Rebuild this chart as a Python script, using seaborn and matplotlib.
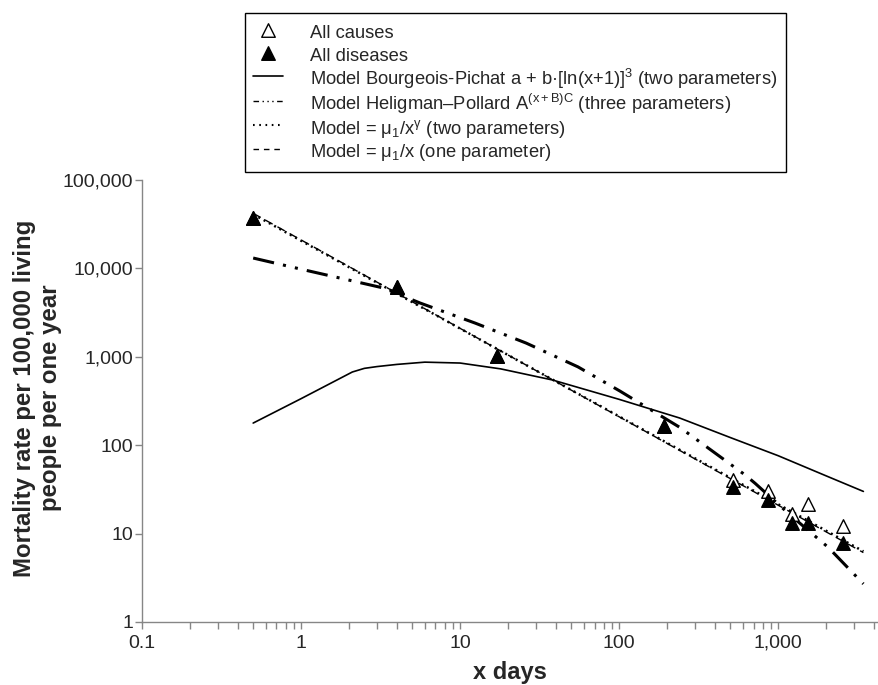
import numpy as np
import pandas as pd
import matplotlib
matplotlib.use("Agg")
import matplotlib.pyplot as plt
from matplotlib.ticker import LogLocator, FuncFormatter, NullLocator
import seaborn as sns

sns.set_style("white")
plt.rcParams['font.family'] = ['Liberation Sans', 'DejaVu Sans']
plt.rcParams['mathtext.fontset'] = 'custom'
plt.rcParams['mathtext.rm'] = 'Liberation Sans'
plt.rcParams['mathtext.it'] = 'Liberation Sans:italic'
plt.rcParams['mathtext.default'] = 'regular'

# observed points (x in days)
obs_x = [0.5, 4, 17, 190, 520, 865, 1225, 1545, 2565]
all_causes = [37000, 6200, 1020, 165, 40, 30, 16.7, 21.6, 12.2]
all_diseases = [37000, 6200, 1020, 165, 33.6, 24, 13.2, 13.2, 7.8]

# Bourgeois-Pichat model curve
bp_x = [0.5, 1, 2.1, 2.5, 3, 4, 6, 10, 18, 38, 100, 240, 500, 1000, 2000, 3430]
bp_y = [178, 336, 673, 740, 775, 820, 870, 850, 730, 547, 330, 203, 122, 76, 45, 30]

# Heligman-Pollard model curve
hp_x = [0.5, 1, 3.3, 5.6, 12.4, 26, 55, 101, 242, 620, 716, 1200, 2060, 3430]
hp_y = [13100, 9800, 6000, 4060, 2410, 1430, 770, 410, 158, 46, 37, 16, 7.0, 2.7]

# power models (straight lines in log-log)
pw_x = [0.5, 3430]
pw_gamma_y = [41000, 6.3]
pw_one_y = [42000, 6.1]

labels = ["All causes", "All diseases",
          "Model Bourgeois-Pichat a + b·[ln(x+1)]$^{3}$ (two parameters)",
          "Model Heligman–Pollard A$^{(x+B)C}$ (three parameters)",
          "Model = μ$_{1}$/x$^{γ}$ (two parameters)",
          "Model = μ$_{1}$/x (one parameter)"]

W, H = 879, 685
fig = plt.figure(figsize=(W / 100, H / 100), dpi=100)
ax = fig.add_axes([142 / W, 1 - 622 / H, (W - 142) / W, (622 - 180) / H])

sns.lineplot(x=bp_x, y=bp_y, ax=ax, color='black', lw=1.2, label=labels[2],
             errorbar=None)
sns.lineplot(x=hp_x, y=hp_y, ax=ax, color='black', lw=2.2, label=labels[3],
             errorbar=None, linestyle=(0, (7, 3, 1, 3, 1, 3)))
sns.lineplot(x=pw_x, y=pw_gamma_y, ax=ax, color='black', lw=1.8, label=labels[4],
             errorbar=None, linestyle=(0, (0.8, 1.6)))
sns.lineplot(x=pw_x, y=pw_one_y, ax=ax, color='black', lw=1.0, label=labels[5],
             errorbar=None, linestyle=(0, (6, 4)))

sns.scatterplot(x=obs_x, y=all_causes, ax=ax, marker='^', s=95, color='white',
                edgecolor='black', linewidth=1, label=labels[0], zorder=5)
sns.scatterplot(x=obs_x, y=all_diseases, ax=ax, marker='^', s=95, color='black',
                edgecolor='black', linewidth=1, label=labels[1], zorder=6)

ax.set_xscale('log')
ax.set_yscale('log')
ax.set_xlim(0.1, 4300)
ax.set_ylim(1, 100000)

def fmt(v, pos):
    return f"{v:g}" if v < 1 else f"{v:,.0f}"

ax.xaxis.set_major_locator(LogLocator(base=10))
ax.xaxis.set_minor_locator(LogLocator(base=10, subs=np.arange(2, 10)))
ax.xaxis.set_major_formatter(FuncFormatter(fmt))
ax.yaxis.set_major_locator(LogLocator(base=10))
ax.yaxis.set_minor_locator(NullLocator())
ax.yaxis.set_major_formatter(FuncFormatter(fmt))
ax.tick_params(axis='both', which='major', labelsize=14, length=5, width=1,
               color='#868686', direction='out', pad=4)
ax.tick_params(axis='y', which='major', pad=1.5)
ax.tick_params(axis='x', which='minor', length=5, width=1, color='#868686')
ax.tick_params(left=True, bottom=True)
ax.tick_params(axis='x', which='minor', bottom=True)

for s in ['top', 'right']:
    ax.spines[s].set_visible(False)
for s in ['left', 'bottom']:
    ax.spines[s].set_color('#868686')
    ax.spines[s].set_linewidth(1)

ax.set_xlabel("")
ax.set_ylabel("")
fig.text(510 / W, 1 - 672 / H, "x days", ha='center', va='center',
         fontsize=17, fontweight='bold')
fig.text(37.5 / W, 1 - 398 / H, "Mortality rate per 100,000 living\npeople per one year",
         ha='center', va='center', rotation=90, fontsize=17.3, fontweight='bold',
         multialignment='center', linespacing=1.22)

handles, labs = ax.get_legend_handles_labels()
order = [labs.index(l) for l in labels]
leg = ax.legend([handles[i] for i in order], [labs[i] for i in order],
                loc='upper left', bbox_to_anchor=(245 / W, 1 - 13 / H),
                bbox_transform=fig.transFigure, fontsize=13.2, frameon=True,
                fancybox=False, edgecolor='black', framealpha=1,
                handlelength=1.6, handleheight=1.45, handletextpad=1.5,
                labelspacing=0.05, borderpad=0.45, borderaxespad=0)
leg.get_frame().set_linewidth(1)

# thinner legend keys so the dash patterns read like the original
styles = {labels[3]: (1.0, (0, (4, 2.5, 1, 2.5, 1, 2.5, 1, 2.5))),
          labels[4]: (1.5, (0, (0.8, 2.2))),
          labels[5]: (1.0, (0, (4, 3.5)))}
for line, text in zip(leg.legend_handles, leg.get_texts()):
    if text.get_text() in styles and hasattr(line, 'set_linestyle'):
        w, ls = styles[text.get_text()]
        line.set_linewidth(w)
        line.set_linestyle(ls)

fig.savefig("out.png", dpi=100)
